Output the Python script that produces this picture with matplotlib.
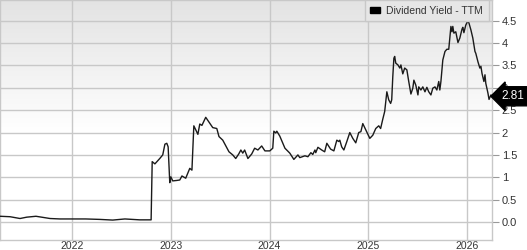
import numpy as np
import pandas as pd
import matplotlib
matplotlib.use("Agg")
import matplotlib.pyplot as plt
import matplotlib.patches as mpatches
import matplotlib.dates as mdates
from matplotlib.ticker import FixedLocator, FixedFormatter

C_GRID = "#c8c8c8"; C_LINE = "#1a1a1a"; C_TEXT = "#333333"

dates = [
    "2021-04-09", "2021-05-16", "2021-06-22", "2021-07-17", "2021-08-20",
    "2021-10-11", "2021-11-17", "2021-12-31", "2022-02-20", "2022-04-13",
    "2022-05-31", "2022-07-15", "2022-09-08", "2022-10-20", "2022-10-24",
    "2022-11-03", "2022-11-21", "2022-12-02", "2022-12-10", "2022-12-17",
    "2022-12-22", "2022-12-28", "2023-01-01", "2023-01-08", "2023-01-23",
    "2023-02-03", "2023-02-11", "2023-02-25", "2023-03-12", "2023-03-20",
    "2023-03-27", "2023-04-11", "2023-04-18", "2023-04-26", "2023-05-10",
    "2023-06-05", "2023-06-20", "2023-06-28", "2023-07-12", "2023-08-04",
    "2023-08-18", "2023-08-29", "2023-09-09", "2023-09-17", "2023-09-24",
    "2023-10-01", "2023-10-13", "2023-10-27", "2023-11-07", "2023-11-19",
    "2023-12-03", "2023-12-15", "2024-01-02", "2024-01-13", "2024-01-17",
    "2024-01-24", "2024-01-28", "2024-02-08", "2024-02-27", "2024-03-16",
    "2024-03-31", "2024-04-15", "2024-04-22", "2024-05-11", "2024-05-22",
    "2024-06-02", "2024-06-09", "2024-06-17", "2024-06-20", "2024-06-28",
    "2024-07-12", "2024-07-23", "2024-07-31", "2024-08-14", "2024-08-26",
    "2024-09-06", "2024-09-13", "2024-09-17", "2024-09-24", "2024-10-02",
    "2024-10-13", "2024-10-24", "2024-11-04", "2024-11-15", "2024-11-26",
    "2024-12-04", "2024-12-11", "2024-12-22", "2025-01-06", "2025-01-17",
    "2025-01-28", "2025-02-08", "2025-02-15", "2025-02-23", "2025-03-02",
    "2025-03-06", "2025-03-10", "2025-03-17", "2025-03-24", "2025-03-28",
    "2025-04-01", "2025-04-05", "2025-04-08", "2025-04-12", "2025-04-20",
    "2025-04-27", "2025-05-01", "2025-05-08", "2025-05-15", "2025-05-23",
    "2025-05-30", "2025-06-07", "2025-06-14", "2025-06-18", "2025-06-25",
    "2025-07-03", "2025-07-06", "2025-07-14", "2025-07-21", "2025-07-29",
    "2025-08-05", "2025-08-12", "2025-08-20", "2025-08-27", "2025-09-04",
    "2025-09-11", "2025-09-18", "2025-09-22", "2025-09-26", "2025-10-03",
    "2025-10-11", "2025-10-18", "2025-10-25", "2025-11-02", "2025-11-06",
    "2025-11-09", "2025-11-13", "2025-11-20", "2025-11-28", "2025-12-05",
    "2025-12-13", "2025-12-16", "2025-12-20", "2025-12-27", "2026-01-04",
    "2026-01-08", "2026-01-15", "2026-01-22", "2026-01-30", "2026-02-02",
    "2026-02-10", "2026-02-17", "2026-02-21", "2026-02-25", "2026-03-04",
    "2026-03-08", "2026-03-11", "2026-03-19", "2026-03-23", "2026-03-30",
    "2026-04-03",
]
yield_ttm = [
    0.13, 0.12, 0.08, 0.11, 0.13,
    0.08, 0.07, 0.07, 0.07, 0.06,
    0.045, 0.07, 0.05, 0.05, 1.35,
    1.30, 1.42, 1.50, 1.74, 1.76,
    1.68, 0.88, 1.01, 0.92, 0.93,
    0.94, 1.03, 0.98, 1.20, 1.16,
    2.15, 1.96, 2.19, 2.16, 2.34,
    2.11, 2.09, 1.91, 1.83, 1.57,
    1.50, 1.42, 1.52, 1.61, 1.54,
    1.61, 1.42, 1.52, 1.65, 1.61,
    1.70, 1.59, 1.59, 1.65, 2.03,
    1.99, 2.03, 1.92, 1.65, 1.54,
    1.40, 1.50, 1.44, 1.48, 1.46,
    1.55, 1.51, 1.61, 1.55, 1.67,
    1.61, 1.57, 1.76, 1.63, 1.59,
    1.83, 1.80, 1.83, 1.68, 1.61,
    1.80, 2.00, 1.87, 1.77, 2.00,
    2.02, 2.20, 2.06, 1.87, 1.94,
    2.09, 2.15, 2.09, 2.30, 2.47,
    2.69, 2.91, 2.73, 2.65, 2.73,
    3.25, 3.66, 3.70, 3.55, 3.51,
    3.44, 3.51, 3.31, 3.44, 3.40,
    3.14, 2.86, 2.99, 3.17, 3.06,
    2.84, 3.02, 2.95, 3.02, 2.91,
    3.01, 2.91, 2.84, 2.99, 3.02,
    2.95, 3.14, 2.95, 3.14, 3.62,
    3.81, 3.86, 3.86, 4.37, 4.25,
    4.37, 4.22, 4.25, 4.01, 4.11,
    4.31, 4.35, 4.23, 4.40, 4.50,
    4.44, 4.29, 4.11, 3.81, 3.77,
    3.58, 3.44, 3.48, 3.32, 3.14,
    3.29, 3.10, 2.88, 2.74, 2.84,
    2.81,
]
y_ticks = [0, 0.5, 1, 1.5, 2, 2.5, 3, 3.5, 4, 4.5]
y_labels = ["0.0", "0.5", "1", "1.5", "2", "2.5", "3", "3.5", "4", "4.5"]
x_years = ["2022", "2023", "2024", "2025", "2026"]

plt.rcParams["font.family"] = ["Liberation Sans", "DejaVu Sans"]

df = pd.DataFrame({"date": pd.to_datetime(dates), "value": yield_ttm})

fig = plt.figure(figsize=(5.27, 2.5), dpi=100)
ax = fig.add_axes([0.0, 0.04, 0.9336, 0.96])

# background: white in lower half, fading to light grey at the top
frac = np.linspace(0, 1, 256)
t = np.clip((frac - 0.45) / 0.55, 0, 1)
shade = 1.0 - t * (1.0 - 0.89)
bg = np.repeat(shade[:, None, None], 3, axis=2)
ax.imshow(bg, extent=[0, 1, 0, 1], transform=ax.transAxes, aspect="auto",
          origin="lower", interpolation="bilinear", zorder=0)

ax.plot(df["date"], df["value"], color=C_LINE, lw=1.0, zorder=3)

ax.set_xlim(pd.Timestamp("2021-04-09"), pd.Timestamp("2026-04-03"))
ax.set_ylim(-0.40, 4.96)

ax.yaxis.tick_right()
ax.yaxis.set_major_locator(FixedLocator(y_ticks))
ax.yaxis.set_major_formatter(FixedFormatter(y_labels))
ax.xaxis.set_major_locator(FixedLocator([mdates.date2num(pd.Timestamp(f"{y}-01-01")) for y in x_years]))
ax.xaxis.set_major_formatter(FixedFormatter(x_years))

ax.grid(True, color=C_GRID, lw=1.0, zorder=1)
ax.set_axisbelow(True)
ax.tick_params(axis="y", length=5, width=0.8, color="#999999", pad=2,
               labelsize=8, labelcolor=C_TEXT)
ax.tick_params(axis="x", length=0, pad=0.5, labelsize=7.5, labelcolor=C_TEXT)
for s in ax.spines.values():
    s.set_color(C_GRID)
    s.set_linewidth(1.0)

# last value tag
last = yield_ttm[-1]
ax.annotate(f"{last:.2f}", xy=(1.0, last), xycoords=("axes fraction", "data"),
            xytext=(15, 0), textcoords="offset points",
            ha="center", va="center", fontsize=8.5, color="white",
            bbox=dict(boxstyle="larrow,pad=0.3", fc="black", ec="black"),
            annotation_clip=False, zorder=5)

handle = mpatches.Patch(fc="black", ec="black", label="Dividend Yield - TTM")
leg = ax.legend(handles=[handle], loc="upper right", bbox_to_anchor=(0.993, 1.0),
                frameon=True, fancybox=False, framealpha=1.0,
                facecolor="#e6e6e6", edgecolor=C_GRID, fontsize=7.5,
                handlelength=0.9, handleheight=0.45, borderpad=0.55,
                handletextpad=0.6, borderaxespad=0)
leg.get_frame().set_linewidth(1.0)
for t in leg.get_texts():
    t.set_color(C_TEXT)

fig.savefig("out.png", dpi=100)
